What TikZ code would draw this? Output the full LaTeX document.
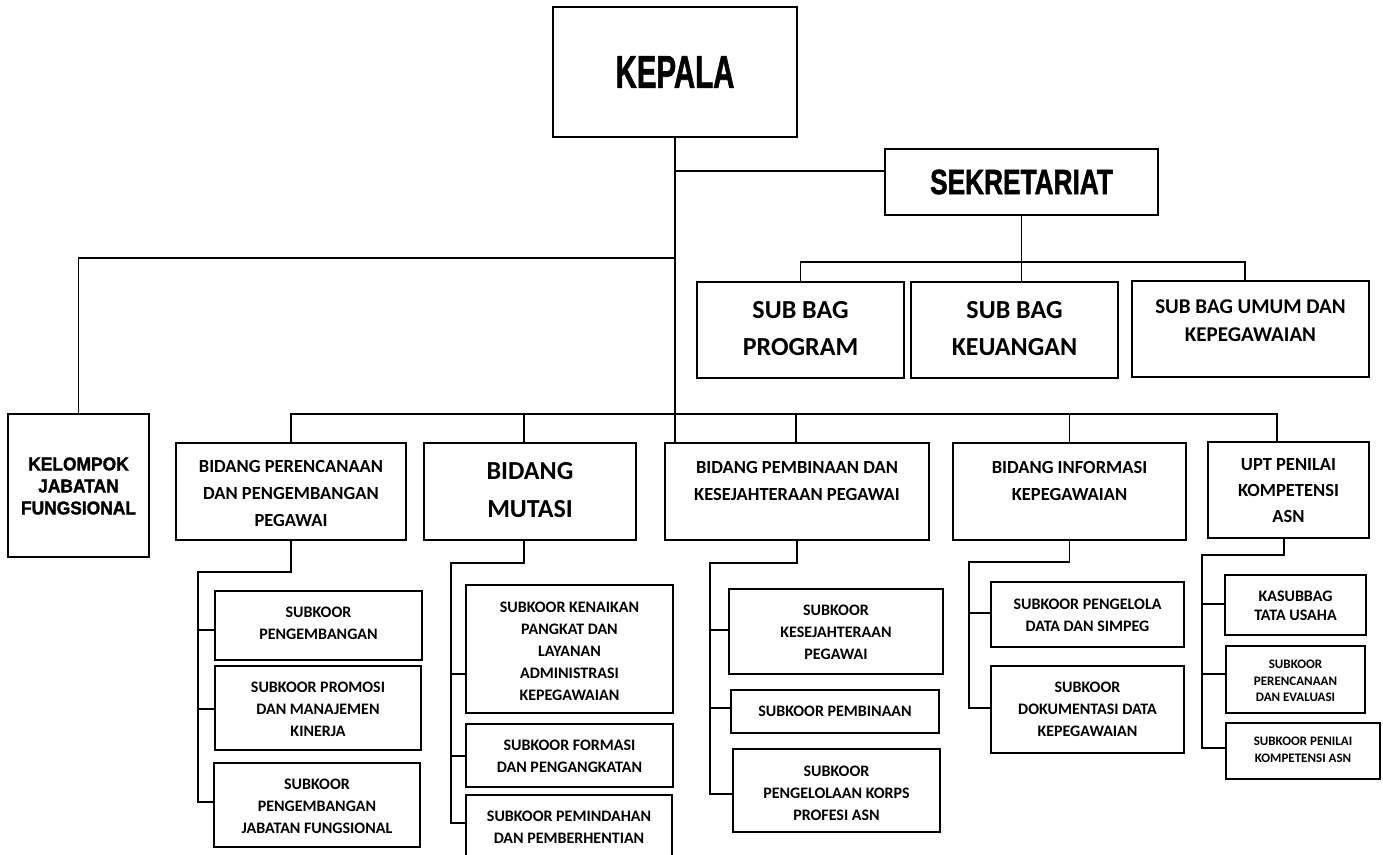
\documentclass[tikz,border=0pt]{standalone}
\usepackage{fontspec}
\setmainfont{Carlito}
\newfontfamily\narrowfont{Liberation Sans}[UprightFont={* Bold}, FakeBold=1.6]
\usepackage{graphicx}
\tikzset{
  box/.style={draw, line width=1.9pt, inner sep=0pt},
  conn/.style={line width=1.5pt},
  tbase/.style={align=center, inner sep=0pt, text=black},
  tsub/.style={tbase, font=\bfseries\fontsize{16}{22}\selectfont},
  tsmall/.style={tbase, font=\bfseries\fontsize{13}{16.5}\selectfont},
  tkas/.style={tbase, font=\bfseries\fontsize{16}{19}\selectfont},
  tbid/.style={tbase, font=\bfseries\fontsize{18.5}{27}\selectfont},
  tupt/.style={tbase, font=\bfseries\fontsize{18.5}{26}\selectfont},
  tmut/.style={tbase, font=\bfseries\fontsize{26}{38}\selectfont},
  tbag/.style={tbase, font=\bfseries\fontsize{26}{37}\selectfont},
  tumum/.style={tbase, font=\bfseries\fontsize{21}{28}\selectfont},
  tkel/.style={tbase, font=\narrowfont\fontsize{18.5}{22}\selectfont},
  tbig/.style={tbase, font=\narrowfont\fontsize{46}{50}\selectfont},
  tsek/.style={tbase, font=\narrowfont\fontsize{35}{40}\selectfont},
}
% #1 name, #2 x1, #3 y1, #4 x2, #5 y2, #6 text y, #7 text style, #8 text
\newcommand\orgbox[8]{%
  \node[box, minimum width={(#4-#2)*1pt}, minimum height={(#5-#3)*1pt}] (#1) at ({(#2+#4)/2},{(#3+#5)/2}) {};
  \node[#7] (#1-t) at ({(#2+#4)/2},#6) {#8};
}
\begin{document}
\begin{tikzpicture}[x=1pt,y=-1pt]
\clip (0,0) rectangle (1383,854);
\fill[white] (0,0) rectangle (1383,854);

% top level
\orgbox{kep}{553}{7}{797}{137}{72}{tbig}{\scalebox{0.64}[1]{KEPALA}}
\orgbox{sek}{885}{149}{1158}{215}{182}{tsek}{\scalebox{0.75}[1]{SEKRETARIAT}}
\orgbox{sp1}{697}{282}{904}{378}{329}{tbag}{SUB BAG\\PROGRAM}
\orgbox{sp2}{911}{282}{1118}{378}{329}{tbag}{SUB BAG\\KEUANGAN}
\orgbox{sp3}{1132}{281}{1369}{377}{321}{tumum}{SUB BAG UMUM DAN\\KEPEGAWAIAN}
\orgbox{kel}{8}{414}{149}{557}{486}{tkel}{\scalebox{0.94}[1]{KELOMPOK}\\\scalebox{0.94}[1]{JABATAN}\\\scalebox{0.94}[1]{FUNGSIONAL}}

% bidang
\orgbox{pr}{176}{443}{406}{540}{493}{tbid}{BIDANG PERENCANAAN\\DAN PENGEMBANGAN\\PEGAWAI}
\orgbox{mut}{424}{443}{636}{540}{490}{tmut}{BIDANG\\MUTASI}
\orgbox{pem}{665}{443}{929}{540}{481}{tbid}{BIDANG PEMBINAAN DAN\\KESEJAHTERAAN PEGAWAI}
\orgbox{inf}{953}{443}{1186}{540}{481}{tbid}{BIDANG INFORMASI\\KEPEGAWAIAN}
\orgbox{upt}{1208}{442}{1369}{538}{491}{tupt}{UPT PENILAI\\KOMPETENSI\\ASN}

% subkoor
\orgbox{pc1}{215}{591}{422}{660}{623}{tsub}{SUBKOOR\\PENGEMBANGAN}
\orgbox{pc2}{215}{666}{421}{750}{709}{tsub}{SUBKOOR PROMOSI\\DAN MANAJEMEN\\KINERJA}
\orgbox{pc3}{214}{763}{420}{847}{806}{tsub}{SUBKOOR\\PENGEMBANGAN\\JABATAN FUNGSIONAL}
\orgbox{mc1}{466}{585}{673}{713}{651}{tsub}{SUBKOOR KENAIKAN\\PANGKAT DAN\\LAYANAN\\ADMINISTRASI\\KEPEGAWAIAN}
\orgbox{mc2}{466}{724}{673}{787}{756}{tsub}{SUBKOOR FORMASI\\DAN PENGANGKATAN}
\orgbox{mc3}{466}{795}{672}{868}{827}{tsub}{SUBKOOR PEMINDAHAN\\DAN PEMBERHENTIAN}
\orgbox{bc1}{729}{589}{943}{674}{632}{tsub}{SUBKOOR\\KESEJAHTERAAN\\PEGAWAI}
\orgbox{bc2}{731}{690}{939}{733}{711}{tsub}{SUBKOOR PEMBINAAN}
\orgbox{bc3}{733}{749}{940}{832}{793}{tsub}{SUBKOOR\\PENGELOLAAN KORPS\\PROFESI ASN}
\orgbox{ic1}{991}{582}{1184}{647}{615}{tsub}{SUBKOOR PENGELOLA\\DATA DAN SIMPEG}
\orgbox{ic2}{991}{666}{1184}{753}{709}{tsub}{SUBKOOR\\DOKUMENTASI DATA\\KEPEGAWAIAN}
\orgbox{uc1}{1225}{575}{1366}{635}{606}{tkas}{KASUBBAG\\TATA USAHA}
\orgbox{uc2}{1226}{646}{1365}{713}{681}{tsmall}{SUBKOOR\\PERENCANAAN\\DAN EVALUASI}
\orgbox{uc3}{1226}{723}{1380}{779}{750}{tsmall}{SUBKOOR PENILAI\\KOMPETENSI ASN}

% junction coordinates
\coordinate (t1) at (675,171);
\coordinate (t2) at (675,258);
\coordinate (t3) at (675,414);
\coordinate (b2) at (524,414);
\coordinate (b5) at (1277,414);

% trunk
\draw[conn] (kep.south) -- (kep.south |- pem.north);
\draw[conn] (t1) -- (t1 -| sek.west);
\draw[conn] (t2) -| (kel.north);

% sekretariat
\draw[conn] (sek.south) -- (sek.south |- sp2.north);
\draw[conn] (sp1.north) |- (1245,262) -- (1245,262 |- sp3.north);

% bidang bus
\draw[conn] (pr.north) |- (b5) -- (b5 |- upt.north);
\draw[conn] (b2) -- (b2 |- mut.north);
\draw[conn] (pem.north -| 796,0) -- (796,414);
\draw[conn] (inf.north) -- (inf.north |- t3);

% perencanaan children
\draw[conn] (pr.south) |- (198,572) -- (198,802) -- (198,802 -| pc3.west);
\draw[conn] (198,630) -- (198,630 -| pc1.west);
\draw[conn] (198,709) -- (198,709 -| pc2.west);

% mutasi children
\draw[conn] (524,540) -- (524,563) -- (451,563) -- (451,823) -- (451,823 -| mc3.west);
\draw[conn] (451,674) -- (451,674 -| mc1.west);
\draw[conn] (451,756) -- (451,756 -| mc2.west);

% pembinaan children
\draw[conn] (pem.south) |- (710,563) -- (710,794) -- (710,794 -| bc3.west);
\draw[conn] (710,630) -- (710,630 -| bc1.west);
\draw[conn] (710,708) -- (710,708 -| bc2.west);

% informasi children
\draw[conn] (inf.south) |- (969,562) -- (969,708) -- (969,708 -| ic2.west);
\draw[conn] (969,613) -- (969,613 -| ic1.west);

% upt children
\draw[conn] (1284,538) -- (1284,555) -- (1202,555) -- (1202,748) -- (1202,748 -| uc3.west);
\draw[conn] (1202,604) -- (1202,604 -| uc1.west);
\draw[conn] (1202,674) -- (1202,674 -| uc2.west);
\end{tikzpicture}
\end{document}
